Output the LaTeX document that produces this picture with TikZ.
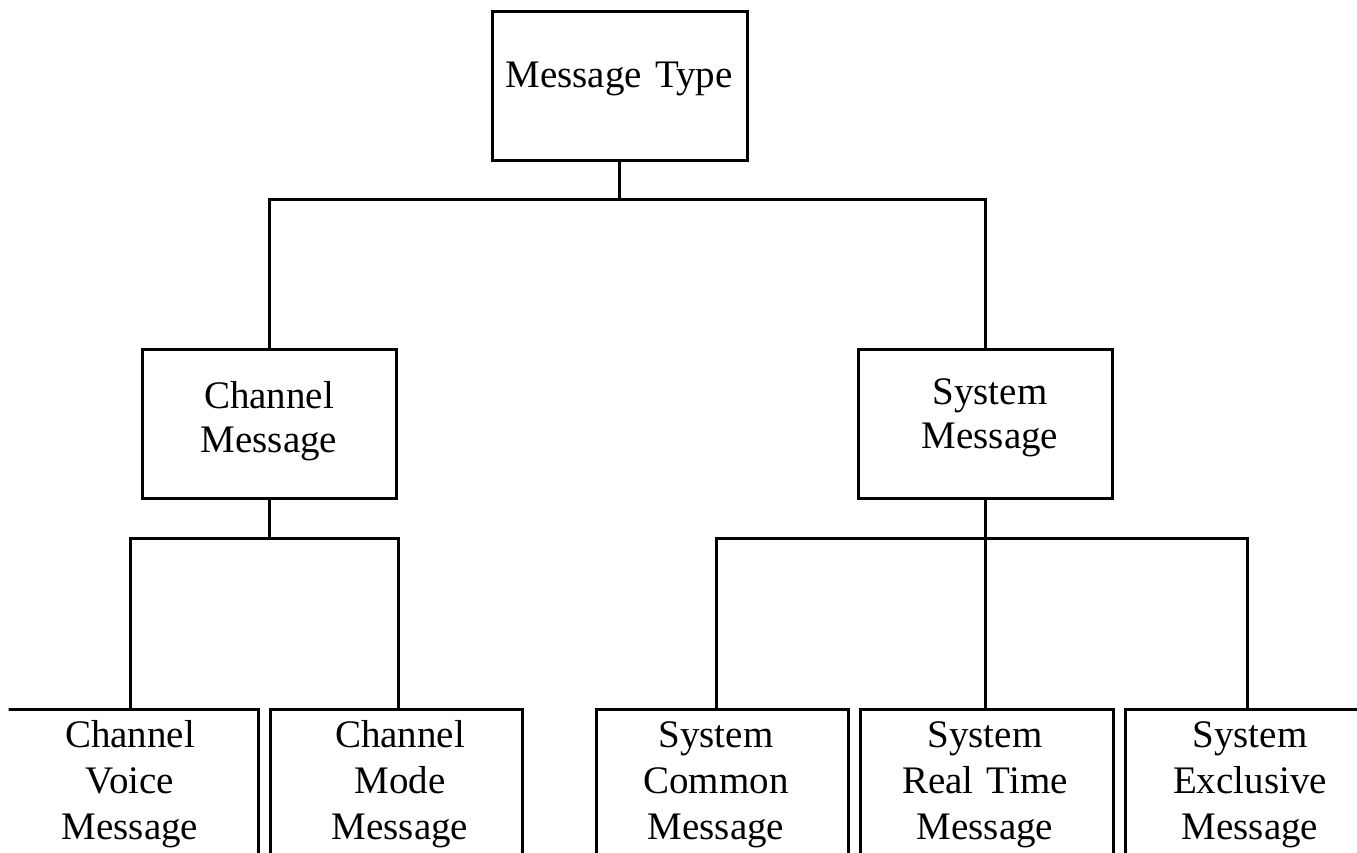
\documentclass[tikz,border=0pt]{standalone}
\usepackage{fontspec}
\setmainfont{Liberation Serif}
\begin{document}
\begin{tikzpicture}[x=1pt,y=-1pt,
  box/.style={draw, line width=3pt, inner sep=0pt, outer sep=0pt, minimum height=#1},
  box/.default=149pt,
  conn/.style={line width=3pt},
  lblm/.style={font=\fontsize{39}{44}\selectfont, text width=260pt, align=center, anchor=base, inner sep=0pt},
  lblb/.style={font=\fontsize{39}{46}\selectfont, text width=260pt, align=center, anchor=base, inner sep=0pt}]
\useasboundingbox (0,0) rectangle (1357,852);
\clip (8.5,0) rectangle (1357,852);
% boxes
\node[box, minimum width=255pt] (mt) at (619.5,85.5) {};
\node[box, minimum width=254pt] (cm) at (269,423.5) {};
\node[box, minimum width=254pt] (sm) at (985.5,423.5) {};
\node[box=161pt, minimum width=253pt] (cv) at (131.5,789.5) {};
\node[box=161pt, minimum width=252pt] (cmo) at (396,789.5) {};
\node[box=161pt, minimum width=252pt] (sc) at (722,789.5) {};
\node[box=161pt, minimum width=253pt] (srt) at (986.5,789.5) {};
\node[box=161pt, minimum width=253pt] (se) at (1251.5,789.5) {};
% labels
\node[lblm] (tmt) at (619,87) {Message Type};
\node[lblm] (tcm) at (269,408) {Channel\\Message};
\node[lblm] (tsm) at (990,404) {System\\Message};
\node[lblb] (tcv) at (130,747) {Channel\\Voice\\Message};
\node[lblb] (tcmo) at (400,747) {Channel\\Mode\\Message};
\node[lblb] (tsc) at (716,747) {System\\Common\\Message};
\node[lblb] (tsrt) at (985,747) {System\\Real Time\\Message};
\node[lblb] (tse) at (1250,747) {System\\Exclusive\\Message};
% connectors
\draw[conn] (mt.south) -- ++(0,39);
\draw[conn] (cm.north) -- ++(0,-150) -| (sm.north);
\draw[conn] (cm.south) -- ++(0,40);
\draw[conn] ([xshift=-1.5pt]cv.north) -- ++(0,-171) -| ([xshift=2pt]cmo.north);
\draw[conn] (sm.south) -- (sm.south |- srt.north);
\draw[conn] ([xshift=-6pt]sc.north) -- ++(0,-171) -| ([xshift=-4.5pt]se.north);
\end{tikzpicture}
\end{document}
